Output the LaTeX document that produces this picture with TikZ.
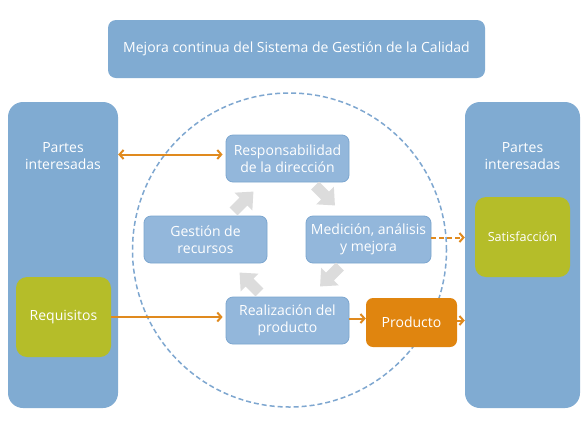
\documentclass[tikz,border=0pt]{standalone}
\usepackage{fontspec}
\setmainfont{Open Sans}
\usetikzlibrary{arrows.meta}
\definecolor{pblue}{HTML}{80ABD2}
\definecolor{iblue}{HTML}{93B7DB}
\definecolor{iborder}{HTML}{7CA6CF}
\definecolor{olivegreen}{HTML}{B5BD29}
\definecolor{orng}{HTML}{E0850F}
\definecolor{garrow}{HTML}{DCDCDC}
\definecolor{circcol}{HTML}{7EA7D0}
\definecolor{oline}{HTML}{E08A1E}
\newcommand\blockarr[3]{\fill[garrow, shift={(#1,#2)}, rotate=#3] (-14,-5.5) -- (0,-5.5) -- (0,-12.5) -- (14,0) -- (0,12.5) -- (0,5.5) -- (-14,5.5) -- cycle;}
\begin{document}
\begin{tikzpicture}[x=1pt,y=-1pt,
  txt/.style={text=white, font=\fontsize{14}{17}\selectfont, align=center, inner sep=0pt},
  panel/.style={fill=pblue, rounded corners=15pt, inner sep=0pt},
  inbox/.style={fill=iblue, draw=iborder, line width=0.8pt, rounded corners=7pt, inner sep=0pt, minimum width=123pt, minimum height=47pt, txt},
  greenbox/.style={fill=olivegreen, rounded corners=11pt, inner sep=0pt, minimum width=95pt, minimum height=80pt, txt},
  oarr/.style={draw=oline, line width=2pt, -{Straight Barb[length=4pt,width=9pt]}},
  oarrboth/.style={draw=oline, line width=2pt, {Straight Barb[length=4pt,width=9pt]}-{Straight Barb[length=4pt,width=9pt]}},
]
\useasboundingbox (0,0) rectangle (588,440);
\fill[white] (0,0) rectangle (588,440);

% top box
\node[fill=pblue, rounded corners=8pt, minimum width=377pt, minimum height=58pt, txt] (top) at (296.5,49) {Mejora continua del Sistema de Gestión de la Calidad};

% side panels
\node[panel, minimum width=110pt, minimum height=306pt] (lp) at (63,255) {};
\node[panel, minimum width=115pt, minimum height=306pt] (rp) at (522.5,255) {};
\node[txt] (lpt) at (63,156) {Partes\\interesadas};
\node[txt] (rpt) at (522.5,156) {Partes\\interesadas};

% green boxes
\node[greenbox] (req) at (63.5,317) {Requisitos};
\node[greenbox, font=\fontsize{12.6}{15}\selectfont] (sat) at (522.5,237) {Satisfacción};

% dashed circle
\node[draw=circcol, dashed, dash pattern=on 5pt off 3pt, line width=1.5pt, circle, minimum size=314pt, inner sep=0pt] (circ) at (289.5,250) {};

% inner boxes
\node[inbox] (resp) at (287.5,158.5) {Responsabilidad\\de la dirección};
\node[inbox] (gest) at (205.5,239.5) {Gestión de\\recursos};
\node[inbox, minimum width=125pt] (med) at (368.5,239.5) {Medición, análisis\\y mejora};
\node[inbox] (real) at (287.5,320.5) {Realización del\\producto};
\node[fill=orng, rounded corners=7pt, minimum width=91pt, minimum height=49pt, txt] (prod) at (411.5,322.5) {Producto};

% gray cycle arrows
\blockarr{243.5}{201.5}{45}
\blockarr{325}{195.5}{-45}
\blockarr{330}{276.5}{-135}
\blockarr{249.5}{282.5}{135}

% orange connectors
\draw[oarrboth] (resp.west -| lp.east) ++(0,-4) -- ([shift={(-3,-4)}]resp.west);
\draw[oarr] (req.east) -- ([xshift=-3pt]req.east -| real.west);
\draw[oarr, dashed, dash pattern=on 5pt off 3pt] ([yshift=2pt]med.east) -- ([yshift=2pt]med.east -| rp.west);
\draw[oarr] ([yshift=2pt]real.east) -- ([yshift=2pt]real.east -| prod.west);
\draw[oarr] ([yshift=2pt]prod.east) -- ([yshift=2pt]prod.east -| rp.west);
\end{tikzpicture}
\end{document}
